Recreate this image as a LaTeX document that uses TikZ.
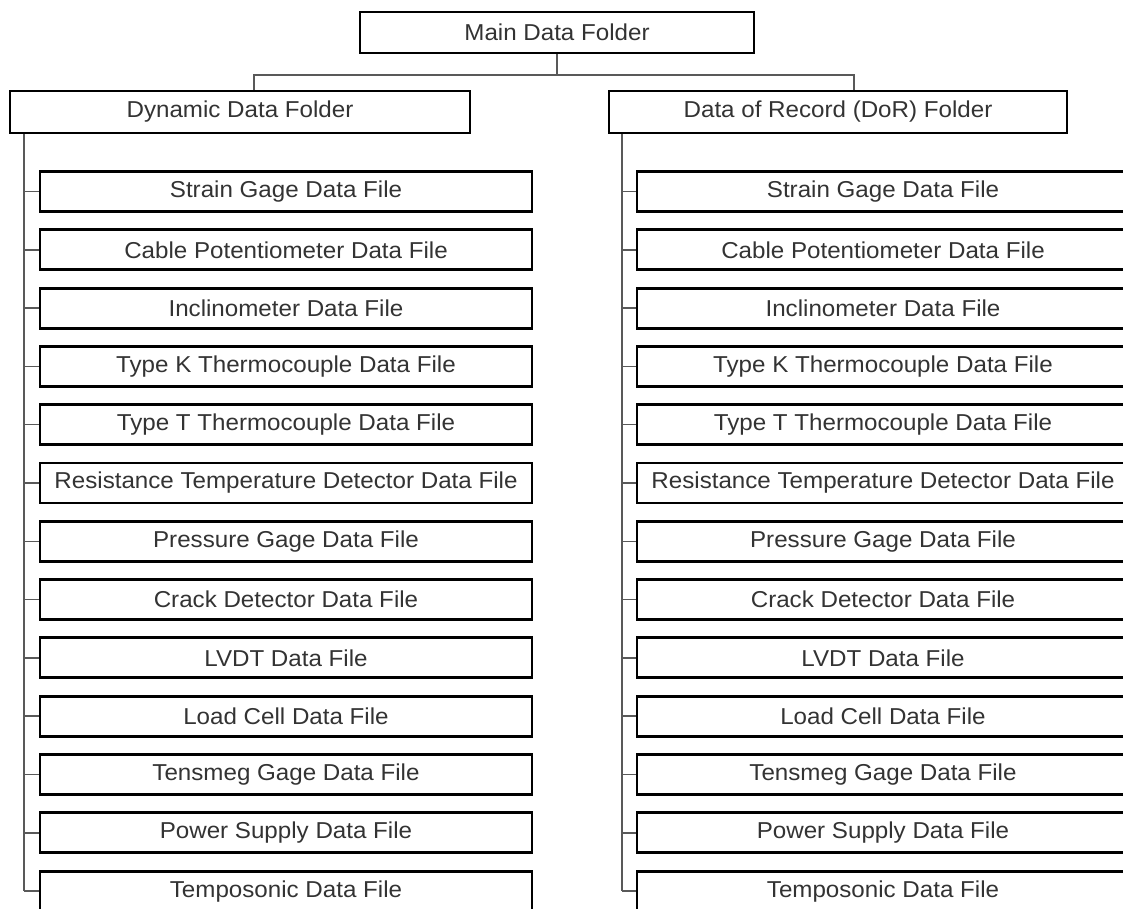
\documentclass[tikz,border=0pt]{standalone}
\usepackage{fontspec}
\setmainfont{Liberation Sans}[FakeStretch=1.05]
\begin{document}
\begin{tikzpicture}[x=1pt,y=-1pt,
  box/.style={draw=black,line width=2.9pt,fill=white,inner sep=0pt,
    minimum height=40pt,font=\fontsize{23}{26}\selectfont,text=black!80},
  filebox/.style={box,minimum width=492pt},
  conn/.style={draw=black!65,line width=1.5pt}]
\useasboundingbox (0,0) rectangle (1123,908);
\clip (0,0) rectangle (1123,908);
\node[box,minimum width=394pt,minimum height=41pt] (main) at (557,32.5) {Main Data Folder};
\node[box,minimum width=460pt,minimum height=42pt] (dyn) at (240,112) {Dynamic Data Folder};
\node[box,minimum width=458pt,minimum height=42pt] (dor) at (838,112) {Data of Record (DoR) Folder};
\coordinate (bar) at (557,75);
\draw[conn] (main.south) -- (bar);
\draw[conn] (dyn.north -| 254,0) |- (bar) -| (dor.north -| 854,0);
\foreach \t [count=\i] in {Strain Gage Data File,Cable Potentiometer Data File,Inclinometer Data File,Type K Thermocouple Data File,Type T Thermocouple Data File,Resistance Temperature Detector Data File,Pressure Gage Data File,Crack Detector Data File,LVDT Data File,Load Cell Data File,Tensmeg Gage Data File,Power Supply Data File,Temposonic Data File}{
  \node[filebox] (l\i) at (286,{191.5+(\i-1)*58.3}) {\t};
  \node[filebox] (r\i) at (883,{191.5+(\i-1)*58.3}) {\t};
  \draw[conn] (l\i.west) -- (l\i.west -| 24,0);
  \draw[conn] (r\i.west) -- (r\i.west -| 622,0);
}
\draw[conn] (dyn.south -| 24,0) -- (l13.west -| 24,0);
\draw[conn] (dor.south -| 622,0) -- (r13.west -| 622,0);
\end{tikzpicture}
\end{document}
